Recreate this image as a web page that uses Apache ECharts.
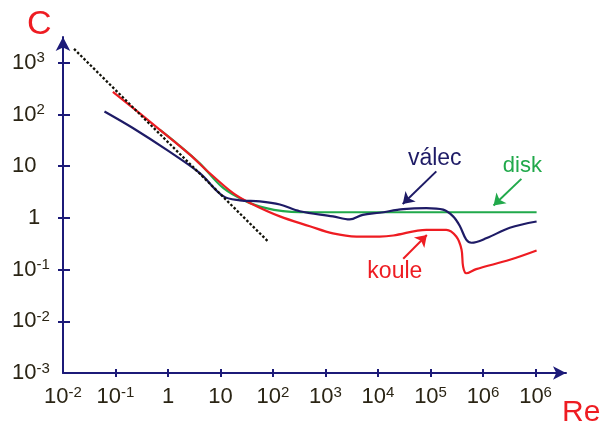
<!DOCTYPE html>
<html><head><meta charset="utf-8">
<script src="https://cdn.jsdelivr.net/npm/echarts@6/dist/echarts.min.js"></script>
<style>html,body{margin:0;padding:0;background:#fff}#c{width:612px;height:427px}</style>
</head><body><div id="c"></div>
<script>
// Tick values are log10 exponents
const xTickValues = [-2,-1,0,1,2,3,4,5,6,7];
const xTickLabels = ['10^-2','10^-1','1','10','10^2','10^3','10^4','10^5','10^6','10^6'];
const yTickValues = [-3,-2,-1,0,1,2,3];
const yTickLabels = ['10^-3','10^-2','10^-1','1','10','10^2','10^3'];

// Curves: log10(Re), log10(C)
const stokesLogRe = [-1.79, 1.90];
const stokesLogC  = [3.27, -0.45];

const kouleLogRe = [-1.05,-0.16,0.41,0.79,1.24,1.56,2.13,2.70,3.14,3.59,4.03,4.29,4.92,5.30,5.49,5.59,5.62,5.68,5.87,6.51,7.02];
const kouleLogC  = [2.44,1.71,1.23,0.87,0.48,0.29,0.03,-0.16,-0.30,-0.36,-0.36,-0.34,-0.23,-0.23,-0.36,-0.61,-0.94,-1.07,-0.99,-0.81,-0.63];

const valecLogRe = [-1.21,-0.67,-0.03,0.60,1.05,1.37,1.75,2.13,2.51,3.14,3.46,3.71,4.03,4.48,4.92,5.24,5.43,5.56,5.68,5.78,6.07,6.51,7.02];
const valecLogC  = [2.06,1.74,1.32,0.87,0.42,0.34,0.32,0.26,0.13,0.03,-0.03,0.06,0.10,0.17,0.19,0.16,0.03,-0.16,-0.42,-0.48,-0.39,-0.19,-0.07];

const diskLogRe = [-0.16,0.16,0.60,1.05,1.49,1.87,2.19,2.51,7.02];
const diskLogC  = [1.71,1.45,1.06,0.58,0.32,0.19,0.13,0.11,0.11];

const AXIS = '#1c1a78';
const RED = '#ee1c22';
const NAVY = '#1e1b66';
const GREEN = '#21a94b';
const TXT = '#2a2414';
const FONT = '"Liberation Sans", Arial, sans-serif';

function zip(a,b){return a.map((v,i)=>[v,b[i]]);}
function fmt(lbl,pad){
  const m=lbl.split('^');
  if(m.length>1) return '{b|'+m[0]+'}{s|'+m[1]+'}';
  return (pad && lbl.length===1 ? '{one|' : '{b|')+m[0]+'}';
}
const rich = {
  b:{fontSize:22,lineHeight:24,color:TXT,fontFamily:FONT},
  one:{fontSize:22,lineHeight:24,color:TXT,fontFamily:FONT,padding:[0,0,0,16]},
  s:{fontSize:15,lineHeight:15,color:TXT,fontFamily:FONT,verticalAlign:'top'}
};

const chart = echarts.init(document.getElementById('c'),null,{renderer:'canvas'});
const xMin=-2,xMax=7.58,yMin=-3,yMax=3.5;
chart.setOption({
  animation:false,
  backgroundColor:'#fff',
  title:[
    {text:'C',left:22,top:3,textStyle:{fontSize:34,color:RED,fontWeight:'normal',fontFamily:FONT}},
    {text:'Re',left:557,top:393,textStyle:{fontSize:30,color:RED,fontWeight:'normal',fontFamily:FONT}}
  ],
  grid:{left:63,right:46,top:37,bottom:54,containLabel:false},
  xAxis:[
    {type:'value',min:xMin,max:xMax,position:'bottom',
     axisLine:{onZero:false,lineStyle:{color:AXIS,width:2},symbol:['none','arrow'],symbolSize:[10,13]},
     axisTick:{show:true,customValues:xTickValues.slice(1),length:4,lineStyle:{color:AXIS,width:2}},
     axisLabel:{customValues:xTickValues,margin:12,rich:rich,
       formatter:v=>fmt(xTickLabels[xTickValues.indexOf(Math.round(v))],false)},
     splitLine:{show:false}},
    {type:'value',min:xMin,max:xMax,position:'bottom',
     axisLine:{show:false,onZero:false},
     axisTick:{show:true,inside:true,customValues:xTickValues.slice(1),length:4,lineStyle:{color:AXIS,width:2}},
     axisLabel:{show:false},splitLine:{show:false}}
  ],
  yAxis:[
    {type:'value',min:yMin,max:yMax,position:'left',
     axisLine:{onZero:false,lineStyle:{color:AXIS,width:2},symbol:['none','arrow'],symbolSize:[11,14]},
     axisTick:{show:true,customValues:yTickValues.slice(1),length:5,lineStyle:{color:AXIS,width:2}},
     axisLabel:{customValues:yTickValues,margin:51,align:'left',rich:rich,
       formatter:v=>fmt(yTickLabels[yTickValues.indexOf(Math.round(v))],true)},
     splitLine:{show:false}},
    {type:'value',min:yMin,max:yMax,position:'left',
     axisLine:{show:false,onZero:false},
     axisTick:{show:true,inside:true,customValues:yTickValues.slice(1),length:7,lineStyle:{color:AXIS,width:2}},
     axisLabel:{show:false},splitLine:{show:false}}
  ],
  series:[
    {name:'disk',type:'line',data:zip(diskLogRe,diskLogC),showSymbol:false,smooth:0.35,
     lineStyle:{color:GREEN,width:2.2},itemStyle:{color:GREEN},z:2,
     markLine:{silent:true,symbol:['none','arrow'],symbolSize:11,label:{show:false},
       lineStyle:{color:GREEN,width:2,type:'solid'},
       data:[[{coord:[6.73,0.755]},{coord:[6.20,0.24]}]]},
     markPoint:{silent:true,symbol:'circle',symbolSize:0,
       label:{show:true,position:'inside',formatter:'disk',fontSize:22,color:GREEN,fontFamily:FONT},
       data:[{coord:[6.75,1.01]}]}},
    {name:'koule',type:'line',data:zip(kouleLogRe,kouleLogC),showSymbol:false,smooth:0.35,
     lineStyle:{color:RED,width:2.2},itemStyle:{color:RED},z:3,
     markLine:{silent:true,symbol:['none','arrow'],symbolSize:11,label:{show:false},
       lineStyle:{color:RED,width:2,type:'solid'},
       data:[[{coord:[4.48,-0.79]},{coord:[4.93,-0.33]}]]},
     markPoint:{silent:true,symbol:'circle',symbolSize:0,
       label:{show:true,position:'inside',formatter:'koule',fontSize:23,color:RED,fontFamily:FONT},
       data:[{coord:[4.32,-1.04]}]}},
    {name:'válec',type:'line',data:zip(valecLogRe,valecLogC),showSymbol:false,smooth:0.35,
     lineStyle:{color:NAVY,width:2.2},itemStyle:{color:NAVY},z:4,
     markLine:{silent:true,symbol:['none','arrow'],symbolSize:11,label:{show:false},
       lineStyle:{color:NAVY,width:2,type:'solid'},
       data:[[{coord:[5.11,0.90]},{coord:[4.47,0.27]}]]},
     markPoint:{silent:true,symbol:'circle',symbolSize:0,
       label:{show:true,position:'inside',formatter:'válec',fontSize:23,color:NAVY,fontFamily:FONT},
       data:[{coord:[5.08,1.15]}]}},
    {name:'Stokes',type:'line',data:zip(stokesLogRe,stokesLogC),showSymbol:false,
     lineStyle:{color:'#111108',width:2.3,type:[2.5,2]},z:5}
  ]
});
</script></body></html>
